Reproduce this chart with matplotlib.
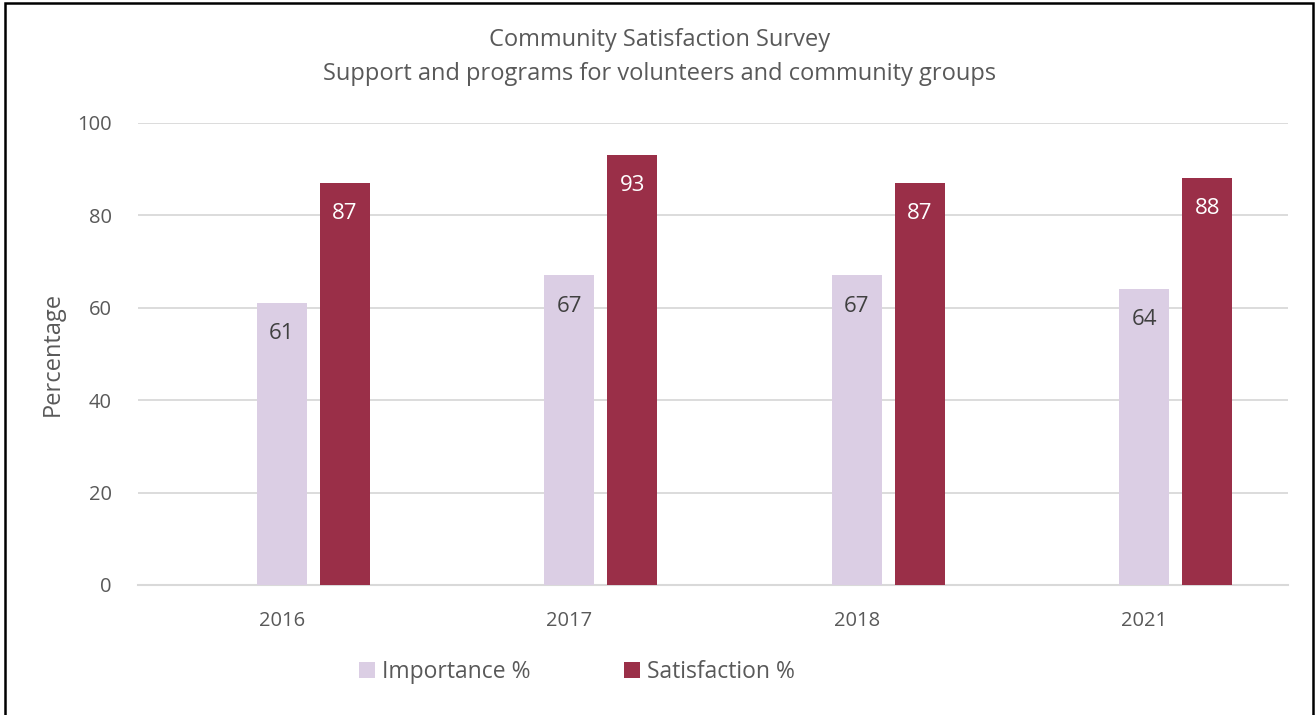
import numpy as np
import matplotlib.pyplot as plt
from matplotlib.patches import Rectangle

plt.rcParams['font.family'] = ['Open Sans', 'DejaVu Sans']

# Survey results
years = ['2016', '2017', '2018', '2021']
importance = [61, 67, 67, 64]
satisfaction = [87, 93, 87, 88]

text_gray = '#595959'
lavender = '#DBCEE4'
maroon = '#9A2F48'

W, H = 1315, 715
fig = plt.figure(figsize=(W / 100, H / 100), dpi=100)
ax = fig.add_axes([138 / W, 1 - 585 / H, (1288 - 138) / W, (585 - 123) / H])

x = np.arange(len(years))
width = 0.174
step = 0.219

b1 = ax.bar(x, importance, width, color=lavender, label='Importance %', zorder=3)
b2 = ax.bar(x + step, satisfaction, width, color=maroon, label='Satisfaction %', zorder=3)

for bars, col in [(b1, '#404040'), (b2, 'white')]:
    for r in bars:
        ax.annotate(f'{r.get_height():.0f}', (r.get_x() + r.get_width() / 2, r.get_height()),
                    xytext=(0, -22), textcoords='offset points', ha='center', va='center',
                    fontsize=16, color=col, zorder=4)

ax.set_xlim(-0.5, len(years) - 0.5)
ax.set_ylim(0, 100)
ax.set_yticks(range(0, 101, 20))
ax.set_xticks(x)
ax.set_xticklabels(years)
ax.tick_params(axis='both', length=0, labelsize=14.5, colors=text_gray)
ax.tick_params(axis='y', pad=19)
ax.tick_params(axis='x', pad=19)
ax.grid(axis='y', color='#D9D9D9', linewidth=1.3, zorder=0)
for s in ['top', 'right', 'left']:
    ax.spines[s].set_visible(False)
ax.spines['bottom'].set_color('#D9D9D9')
ax.spines['bottom'].set_linewidth(1.5)

ax.set_ylabel('Percentage', fontsize=17, color=text_gray, labelpad=9)

fig.text(660 / W, 1 - 40 / H, 'Community Satisfaction Survey', ha='center', va='center',
         fontsize=17, color=text_gray)
fig.text(660 / W, 1 - 74 / H, 'Support and programs for volunteers and community groups',
         ha='center', va='center', fontsize=17, color=text_gray)

leg = fig.legend(loc='center', bbox_to_anchor=(577 / W, 1 - 672 / H), ncol=2, frameon=False,
                 fontsize=16.5, handlelength=0.7, handleheight=0.7, handletextpad=0.3,
                 columnspacing=4.1)
for t in leg.get_texts():
    t.set_color(text_gray)

# outer frame
fig.patches.append(Rectangle((5 / W, -0.01), (1313 - 5) / W, 1.01 - 3 / H, transform=fig.transFigure,
                             fill=False, edgecolor='black', linewidth=1.8))

fig.savefig('out.png', dpi=100)
